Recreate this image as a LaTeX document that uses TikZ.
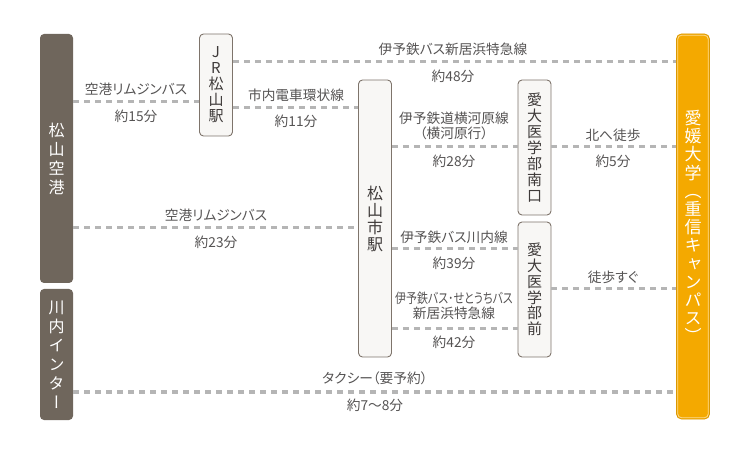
\documentclass[tikz,border=0pt]{standalone}
\usepackage{fontspec}
\usepackage{graphicx}
\setmainfont{Noto Sans CJK JP}[RawFeature=+palt]
\newfontfamily\tatefont{Noto Sans CJK JP}[RawFeature=+vert]
\definecolor{stone}{HTML}{6F665C}
\definecolor{boxedge}{HTML}{7E746B}
\definecolor{paper}{HTML}{F8F7F5}
\definecolor{ink}{HTML}{3E3A39}
\definecolor{note}{HTML}{555353}
\definecolor{routegray}{HTML}{B5B5B5}
\definecolor{campus}{HTML}{F4A900}
\definecolor{campuslight}{HTML}{FCDB90}

\begin{document}
\begin{tikzpicture}[x=1pt, y=-1pt,
    darkbox/.style={rectangle, rounded corners=4pt, fill=stone, text=white, minimum width=33pt,
        inner sep=0pt, align=center, font=\tatefont\fontsize{16}{19}\selectfont},
    stationbox/.style={rectangle, rounded corners=4pt, draw=boxedge, line width=0.9pt, fill=paper,
        text=ink, minimum width=33pt, inner sep=0pt, align=center, font=\tatefont\fontsize{15}{16}\selectfont},
    campusbox/.style={rectangle, rounded corners=5pt, draw=campus!90!black, line width=0.8pt, fill=campus,
        text=white, minimum width=33pt, inner sep=0pt, align=center, font=\tatefont\fontsize{17}{18.2}\selectfont},
    route/.style={draw=routegray, line width=3pt, dash pattern=on 6pt off 5pt},
    lbl/.style={text=note, inner sep=0pt, align=center, font=\fontsize{13.7}{14.5}\selectfont}]
    \useasboundingbox (0,0) rectangle (750,454);

    % places
    \node[darkbox, minimum height=249pt] (air) at (56.5, 158.5) {松\\山\\空\\港};
    \node[darkbox, minimum height=131pt] (kawauchi) at (56.5, 354.5) {川\\内\\イ\\ン\\タ\\ー};
    \node[stationbox, minimum height=102pt] (jr) at (216, 85) {J\\R\\松\\山\\駅};
    \node[stationbox, minimum height=277pt, font=\tatefont\fontsize{16}{17}\selectfont] (shieki) at (375, 218.5) {松\\山\\市\\駅};
    \node[stationbox, minimum height=135pt] (nankou) at (534.5, 147.5) {愛\\大\\医\\学\\部\\南\\口};
    \node[stationbox, minimum height=135pt, font=\tatefont\fontsize{15}{15.7}\selectfont] (mae) at (534.5, 289.5) {愛\\大\\医\\学\\部\\前};
    \node[campusbox, minimum height=385pt] (ehime) at (693, 226.5) {愛\\媛\\大\\学\\（\\重\\信\\キ\\ャ\\ン\\パ\\ス\\）};
    \draw[campuslight, line width=0.8pt, rounded corners=4pt] ([xshift=1.6pt,yshift=1.6pt]ehime.south west) rectangle ([xshift=-1.6pt,yshift=-1.6pt]ehime.north east);

    % routes
    \draw[route] (air.east |- 0,102) -- (jr.west |- 0,102);
    \draw[route] (jr.east |- 0,108) -- (shieki.west |- 0,108);
    \draw[route] (jr.east |- 0,62) -- (ehime.west |- 0,62);
    \draw[route] (air.east |- 0,228) -- (shieki.west |- 0,228);
    \draw[route] (shieki.east |- 0,147) -- (nankou.west |- 0,147);
    \draw[route] (nankou.east |- 0,147) -- (ehime.west |- 0,147);
    \draw[route] (shieki.east |- 0,249) -- (mae.west |- 0,249);
    \draw[route] (mae.east |- 0,289) -- (ehime.west |- 0,289);
    \draw[route] (shieki.east |- 0,329) -- (mae.west |- 0,329);
    \draw[route] (kawauchi.east |- 0,392) -- (ehime.west |- 0,392);

    % labels
    \node[lbl] (bus1) at (136, 89) {空港リムジンバス};
    \node[lbl] (time1) at (136, 116) {約15分};
    \node[lbl] (tram) at (296, 95) {市内電車環状線};
    \node[lbl] (time2) at (296, 121) {約11分};
    \node[lbl] (express1) at (453, 49) {伊予鉄バス新居浜特急線};
    \node[lbl] (time3) at (453, 76) {約48分};
    \node[lbl] (bus2) at (216, 215) {空港リムジンバス};
    \node[lbl] (time4) at (216, 242) {約23分};
    \node[lbl] (rail) at (454, 126) {伊予鉄道横河原線\\（横河原行）};
    \node[lbl] (time5) at (454, 161) {約28分};
    \node[lbl] (walk1) at (613, 135) {北へ徒歩};
    \node[lbl] (time6) at (613, 161) {約5分};
    \node[lbl] (bus3) at (454, 237) {伊予鉄バス川内線};
    \node[lbl] (time7) at (454, 263) {約39分};
    \node[lbl] (walk2) at (613, 277) {徒歩すぐ};
    \node[lbl] (express2) at (454, 306) {\scalebox{0.8}[1]{伊予鉄バス･せとうちバス}\\新居浜特急線};
    \node[lbl] (time8) at (454, 342) {約42分};
    \node[lbl] (taxi) at (375, 378) {タクシー（要予約）};
    \node[lbl] (time9) at (375, 405) {約7～8分};
\end{tikzpicture}
\end{document}
